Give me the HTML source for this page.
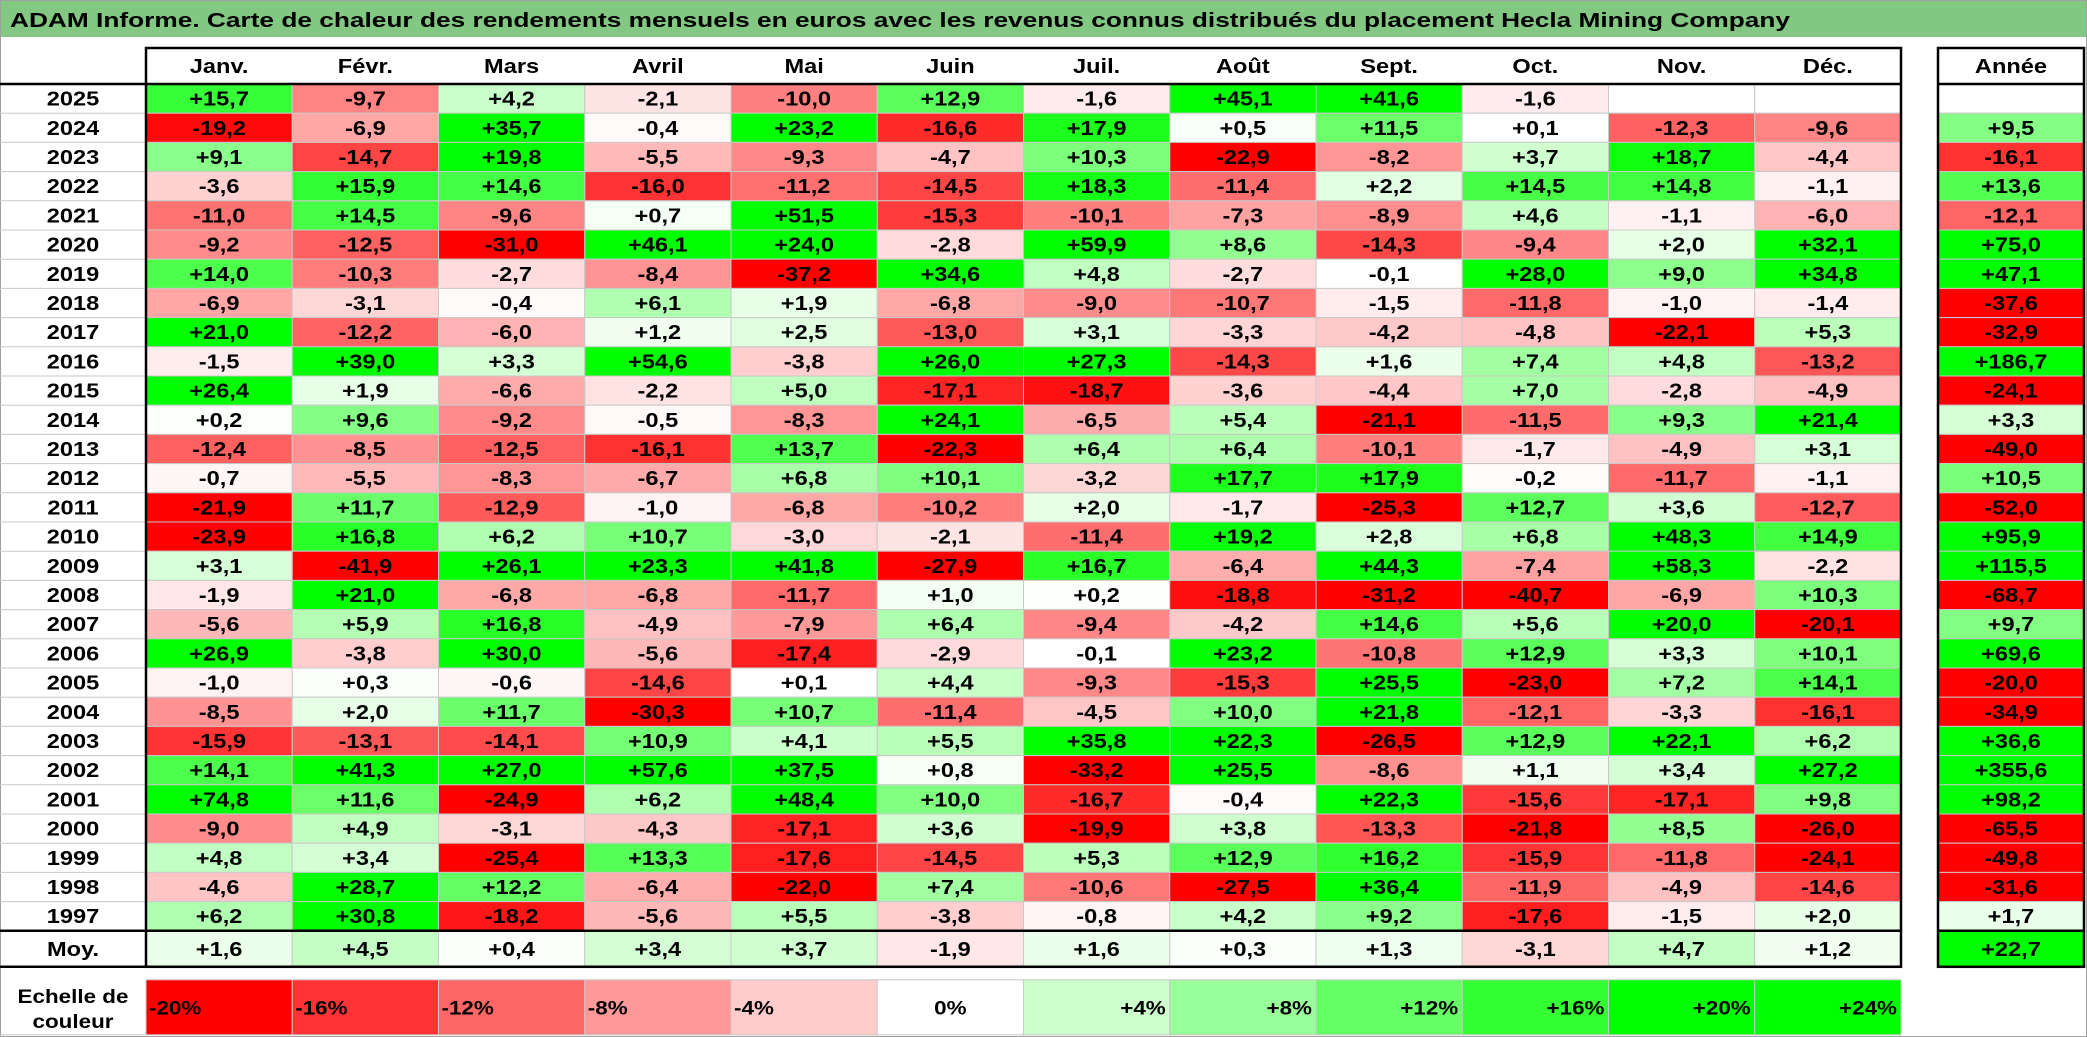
<!DOCTYPE html>
<html><head><meta charset="utf-8"><style>
html,body{margin:0;padding:0;background:#fff;}
svg{display:block;font-family:"Liberation Sans",Arial,sans-serif;font-weight:bold;}
</style></head><body>
<svg id="chart" width="2087" height="1037" viewBox="0 0 2087 1037">
<rect x="0.5" y="0.5" width="2086" height="1036" fill="#fff" stroke="#a0a0a0"/>
<rect x="1" y="1" width="2085" height="36" fill="#82c882"/>
<text x="10" y="27" font-size="20" fill="#000" textLength="1780" lengthAdjust="spacingAndGlyphs">ADAM Informe. Carte de chaleur des rendements mensuels en euros avec les revenus connus distribués du placement Hecla Mining Company</text>
<g id="cells"></g>
<g id="lines"></g>
</svg>
<script>
const months = ["Janv.","Févr.","Mars","Avril","Mai","Juin","Juil.","Août","Sept.","Oct.","Nov.","Déc."];
const years = [2025,2024,2023,2022,2021,2020,2019,2018,2017,2016,2015,2014,2013,2012,2011,2010,2009,2008,2007,2006,2005,2004,2003,2002,2001,2000,1999,1998,1997];
const values = [
[15.7,-9.7,4.2,-2.1,-10.0,12.9,-1.6,45.1,41.6,-1.6,null,null],
[-19.2,-6.9,35.7,-0.4,23.2,-16.6,17.9,0.5,11.5,0.1,-12.3,-9.6],
[9.1,-14.7,19.8,-5.5,-9.3,-4.7,10.3,-22.9,-8.2,3.7,18.7,-4.4],
[-3.6,15.9,14.6,-16.0,-11.2,-14.5,18.3,-11.4,2.2,14.5,14.8,-1.1],
[-11.0,14.5,-9.6,0.7,51.5,-15.3,-10.1,-7.3,-8.9,4.6,-1.1,-6.0],
[-9.2,-12.5,-31.0,46.1,24.0,-2.8,59.9,8.6,-14.3,-9.4,2.0,32.1],
[14.0,-10.3,-2.7,-8.4,-37.2,34.6,4.8,-2.7,-0.1,28.0,9.0,34.8],
[-6.9,-3.1,-0.4,6.1,1.9,-6.8,-9.0,-10.7,-1.5,-11.8,-1.0,-1.4],
[21.0,-12.2,-6.0,1.2,2.5,-13.0,3.1,-3.3,-4.2,-4.8,-22.1,5.3],
[-1.5,39.0,3.3,54.6,-3.8,26.0,27.3,-14.3,1.6,7.4,4.8,-13.2],
[26.4,1.9,-6.6,-2.2,5.0,-17.1,-18.7,-3.6,-4.4,7.0,-2.8,-4.9],
[0.2,9.6,-9.2,-0.5,-8.3,24.1,-6.5,5.4,-21.1,-11.5,9.3,21.4],
[-12.4,-8.5,-12.5,-16.1,13.7,-22.3,6.4,6.4,-10.1,-1.7,-4.9,3.1],
[-0.7,-5.5,-8.3,-6.7,6.8,10.1,-3.2,17.7,17.9,-0.2,-11.7,-1.1],
[-21.9,11.7,-12.9,-1.0,-6.8,-10.2,2.0,-1.7,-25.3,12.7,3.6,-12.7],
[-23.9,16.8,6.2,10.7,-3.0,-2.1,-11.4,19.2,2.8,6.8,48.3,14.9],
[3.1,-41.9,26.1,23.3,41.8,-27.9,16.7,-6.4,44.3,-7.4,58.3,-2.2],
[-1.9,21.0,-6.8,-6.8,-11.7,1.0,0.2,-18.8,-31.2,-40.7,-6.9,10.3],
[-5.6,5.9,16.8,-4.9,-7.9,6.4,-9.4,-4.2,14.6,5.6,20.0,-20.1],
[26.9,-3.8,30.0,-5.6,-17.4,-2.9,-0.1,23.2,-10.8,12.9,3.3,10.1],
[-1.0,0.3,-0.6,-14.6,0.1,4.4,-9.3,-15.3,25.5,-23.0,7.2,14.1],
[-8.5,2.0,11.7,-30.3,10.7,-11.4,-4.5,10.0,21.8,-12.1,-3.3,-16.1],
[-15.9,-13.1,-14.1,10.9,4.1,5.5,35.8,22.3,-26.5,12.9,22.1,6.2],
[14.1,41.3,27.0,57.6,37.5,0.8,-33.2,25.5,-8.6,1.1,3.4,27.2],
[74.8,11.6,-24.9,6.2,48.4,10.0,-16.7,-0.4,22.3,-15.6,-17.1,9.8],
[-9.0,4.9,-3.1,-4.3,-17.1,3.6,-19.9,3.8,-13.3,-21.8,8.5,-26.0],
[4.8,3.4,-25.4,13.3,-17.6,-14.5,5.3,12.9,16.2,-15.9,-11.8,-24.1],
[-4.6,28.7,12.2,-6.4,-22.0,7.4,-10.6,-27.5,36.4,-11.9,-4.9,-14.6],
[6.2,30.8,-18.2,-5.6,5.5,-3.8,-0.8,4.2,9.2,-17.6,-1.5,2.0]
];
const yearTotals = [null,9.5,-16.1,13.6,-12.1,75.0,47.1,-37.6,-32.9,186.7,-24.1,3.3,-49.0,10.5,-52.0,95.9,115.5,-68.7,9.7,69.6,-20.0,-34.9,36.6,355.6,98.2,-65.5,-49.8,-31.6,1.7];
const averages = [1.6,4.5,0.4,3.4,3.7,-1.9,1.6,0.3,1.3,-3.1,4.7,1.2];
const averageTotal = 22.7;
const scaleSteps = [-20,-16,-12,-8,-4,0,4,8,12,16,20,24];

const NS="http://www.w3.org/2000/svg";
const cells=document.getElementById('cells'), lines=document.getElementById('lines');
const X0=146, CW=146.25, Y0=84, RH=29.2, HY=48, AX=1938, AW=146;
const xCol=i=>X0+i*CW, yRow=r=>Y0+r*RH;
function color(v){
  if(v===null) return '#ffffff';
  const t=Math.min(Math.abs(v)/20,1), c=Math.round(255*(1-t));
  return v<0?`rgb(255,${c},${c})`:`rgb(${c},255,${c})`;
}
function fmt(v){const s=Math.abs(v).toFixed(1).replace('.',',');return (v<0?'-':'+')+s;}
function el(tag,attrs,parent){const e=document.createElementNS(NS,tag);for(const k in attrs)e.setAttribute(k,attrs[k]);parent.appendChild(e);return e;}
function txt(x,y,s,anchor,size,parent){
  const t=el('text',{x:x,y:y,'text-anchor':anchor,'font-size':size,fill:'#000'},parent);
  t.textContent=s;
  const L=t.getComputedTextLength();
  if(L>0){t.setAttribute('textLength',(L*1.18).toFixed(1));t.setAttribute('lengthAdjust','spacingAndGlyphs');}
  return t;
}
function cell(x,y,w,h,v,parent){
  const r=el('rect',{x:x,y:y,width:w,height:h,fill:color(v),stroke:'#c8c8c8','stroke-width':1},parent);
  
  
  if(v!==null){const t=txt(x+w/2,y+h/2+7,fmt(v),'middle',20,parent);
    
    }
}
months.forEach((m,i)=>{const t=txt(xCol(i)+CW/2,HY+25,m,'middle',20,cells);
  
  });
const ah=txt(AX+AW/2,HY+25,'Année','middle',20,cells);


years.forEach((yr,r)=>{
  const y=yRow(r);
  el('line',{x1:0,x2:X0,y1:y,y2:y,stroke:'#c8c8c8'},lines);
  const t=txt(73,y+RH/2+7,String(yr),'middle',20,cells);
  
  
  values[r].forEach((v,i)=>cell(xCol(i),y,CW,RH,v,cells));
  cell(AX,y,AW,RH,yearTotals[r],cells);
});
const yEnd=yRow(years.length), MH=36;
const ml=txt(73,yEnd+MH/2+7,'Moy.','middle',20,cells);


averages.forEach((v,i)=>cell(xCol(i),yEnd,CW,MH,v,cells));
cell(AX,yEnd,AW,MH,averageTotal,cells);
const LY=yEnd+MH+13, LH=55;
const l1=txt(73,LY+23,'Echelle de','middle',19,cells);


const l2=txt(73,LY+48,'couleur','middle',19,cells);


scaleSteps.forEach((s,i)=>{
  const x=xCol(i);
  const r=el('rect',{x:x,y:LY,width:CW,height:LH,fill:color(s),stroke:'#c8c8c8'},cells);
  
  
  const lab=(s>0?'+':'')+s+'%';
  let t;
  if(s<0) t=txt(x+3,LY+LH/2+7,lab,'start',19,cells);
  else if(s===0) t=txt(x+CW/2,LY+LH/2+7,lab,'middle',19,cells);
  else t=txt(x+CW-4,LY+LH/2+7,lab,'end',19,cells);
  
  
});
el('line',{x1:0,x2:X0,y1:LY+LH,y2:LY+LH,stroke:'#c8c8c8'},lines);
const XR=xCol(12);
const B={stroke:'#000','stroke-width':2.5,fill:'none'};
el('rect',Object.assign({x:X0,y:HY,width:XR-X0,height:yEnd+MH-HY},B),lines);
el('line',Object.assign({x1:X0,x2:XR,y1:Y0,y2:Y0},B),lines);
el('line',Object.assign({x1:0,x2:X0,y1:Y0,y2:Y0},B),lines);
el('line',Object.assign({x1:0,x2:XR,y1:yEnd,y2:yEnd},B),lines);
el('line',Object.assign({x1:0,x2:XR,y1:yEnd+MH,y2:yEnd+MH},B),lines);
el('rect',Object.assign({x:AX,y:HY,width:AW,height:yEnd+MH-HY},B),lines);
el('line',Object.assign({x1:AX,x2:AX+AW,y1:Y0,y2:Y0},B),lines);
el('line',Object.assign({x1:AX,x2:AX+AW,y1:yEnd,y2:yEnd},B),lines);
</script>
</body></html>
